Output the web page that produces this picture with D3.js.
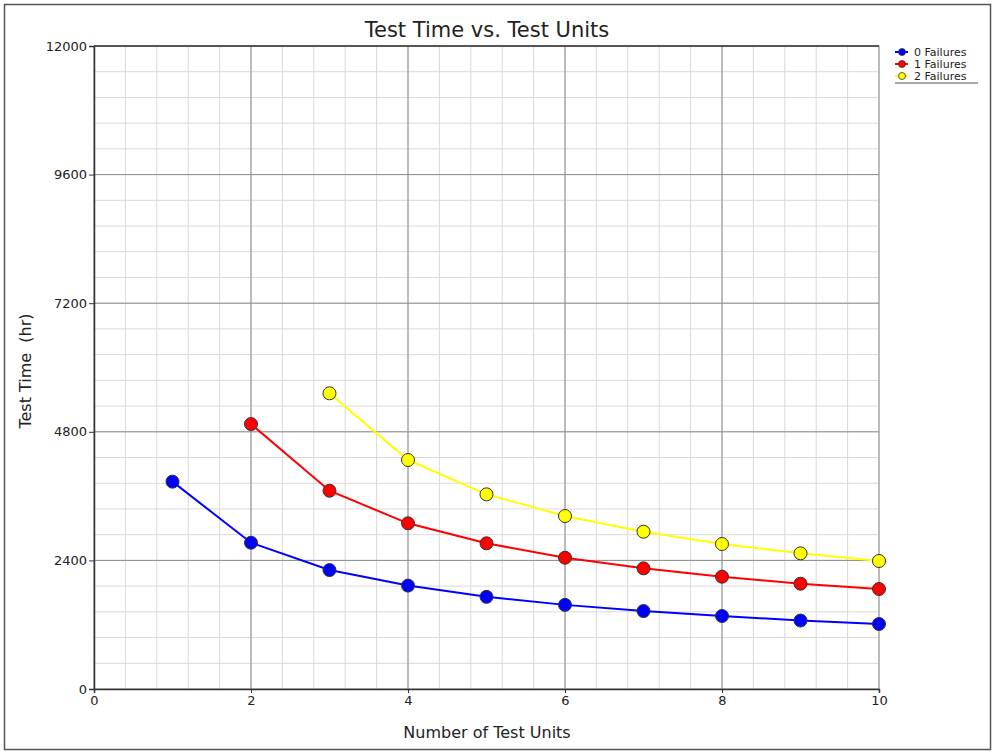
<!DOCTYPE html>
<html>
<head>
<meta charset="utf-8">
<script src="https://cdn.jsdelivr.net/npm/d3@7"></script>
<style>
  body { margin: 0; background: #fff; }
  text { font-family: "DejaVu Sans", Verdana, sans-serif; fill: #222; }
</style>
</head>
<body>
<div id="chart"></div>
<script>
const units = [1, 2, 3, 4, 5, 6, 7, 8, 9, 10];
const zeroFailures = [3870, 2730, 2220, 1930, 1720, 1570, 1455, 1362, 1278, 1213];
const oneFailures = [null, 4945, 3700, 3092, 2719, 2450, 2252, 2096, 1965, 1866];
const twoFailures = [null, null, 5518, 4273, 3633, 3228, 2935, 2706, 2532, 2389];
const xTicks = [0, 2, 4, 6, 8, 10];
const yTicks = [0, 2400, 4800, 7200, 9600, 12000];

const series = [
  { name: "0 Failures", values: zeroFailures, color: "#0000ff" },
  { name: "1 Failures", values: oneFailures, color: "#ff0000" },
  { name: "2 Failures", values: twoFailures, color: "#ffff00" }
];

const W = 999, H = 755;
const margin = { top: 46, right: 120, bottom: 66, left: 94 };
const width = 879 - margin.left;
const height = 689 - margin.top;

const svg = d3.select("#chart").append("svg")
  .attr("width", W).attr("height", H);

svg.append("rect")
  .attr("x", 4.5).attr("y", 4.5)
  .attr("width", 986).attr("height", 745)
  .attr("fill", "#fff").attr("stroke", "#555").attr("stroke-width", 1.5);

const g = svg.append("g").attr("transform", `translate(${margin.left},${margin.top})`);

const x = d3.scaleLinear().domain([0, 10]).range([0, width]);
const y = d3.scaleLinear().domain([0, 12000]).range([height, 0]);

// minor grid
g.append("g").selectAll("line")
  .data(d3.range(0, 26).map(i => i * 0.4))
  .join("line")
  .attr("x1", d => x(d)).attr("x2", d => x(d))
  .attr("y1", 0).attr("y2", height)
  .attr("stroke", "#d9d9d9");
g.append("g").selectAll("line")
  .data(d3.range(0, 26).map(i => i * 480))
  .join("line")
  .attr("y1", d => y(d)).attr("y2", d => y(d))
  .attr("x1", 0).attr("x2", width)
  .attr("stroke", "#d9d9d9");

// major grid
g.append("g").selectAll("line")
  .data(xTicks)
  .join("line")
  .attr("x1", d => x(d)).attr("x2", d => x(d))
  .attr("y1", 0).attr("y2", height)
  .attr("stroke", "#8c8c8c");
g.append("g").selectAll("line")
  .data(yTicks)
  .join("line")
  .attr("y1", d => y(d)).attr("y2", d => y(d))
  .attr("x1", 0).attr("x2", width)
  .attr("stroke", "#8c8c8c");

// axes
const xAxis = g.append("g")
  .attr("transform", `translate(0,${height})`)
  .call(d3.axisBottom(x).tickValues(xTicks).tickFormat(d3.format("d")).tickSize(4).tickPadding(3));
const yAxis = g.append("g")
  .call(d3.axisLeft(y).tickValues(yTicks).tickFormat(d3.format("d")).tickSize(5).tickPadding(2));
[xAxis, yAxis].forEach(a => {
  a.select(".domain").attr("stroke", "#333").attr("stroke-width", 1.5);
  a.selectAll(".tick line").attr("stroke", "#333");
  a.selectAll("text").style("font-size", "13px").attr("fill", "#222");
});
g.append("line")
  .attr("x1", 0).attr("x2", width).attr("y1", 0).attr("y2", 0)
  .attr("stroke", "#333").attr("stroke-width", 1.5);

// series
const line = d3.line()
  .defined(d => d.v != null)
  .x(d => x(d.u)).y(d => y(d.v));

series.forEach(s => {
  const pts = units.map((u, i) => ({ u, v: s.values[i] }));
  g.append("path")
    .datum(pts)
    .attr("d", line)
    .attr("fill", "none")
    .attr("stroke", s.color)
    .attr("stroke-width", 2);
  g.append("g").selectAll("circle")
    .data(pts.filter(d => d.v != null))
    .join("circle")
    .attr("cx", d => x(d.u)).attr("cy", d => y(d.v))
    .attr("r", 6.5)
    .attr("fill", s.color)
    .attr("stroke", "#333")
    .attr("stroke-width", 1);
});

// title and labels
svg.append("text")
  .attr("x", 487).attr("y", 37)
  .attr("text-anchor", "middle")
  .style("font-size", "21px")
  .text("Test Time vs. Test Units");

svg.append("text")
  .attr("x", 487).attr("y", 738)
  .attr("text-anchor", "middle")
  .style("font-size", "16px")
  .text("Number of Test Units");

svg.append("text")
  .attr("transform", "translate(31,371) rotate(-90)")
  .attr("text-anchor", "middle")
  .style("font-size", "16px")
  .style("white-space", "pre")
  .text("Test Time  (hr)");

// legend
const legend = svg.append("g").attr("transform", "translate(895,52)");
series.forEach((s, i) => {
  const row = legend.append("g").attr("transform", `translate(0,${i * 12})`);
  row.append("line")
    .attr("x1", 0).attr("x2", 13).attr("y1", 0).attr("y2", 0)
    .attr("stroke", s.color).attr("stroke-width", 2);
  row.append("circle")
    .attr("cx", 7).attr("cy", 0).attr("r", 3.5)
    .attr("fill", s.color).attr("stroke", "#333").attr("stroke-width", 0.8);
  row.append("text")
    .attr("x", 19).attr("y", 4)
    .style("font-size", "11px")
    .text(s.name);
});
legend.append("line")
  .attr("x1", 0).attr("x2", 83).attr("y1", 31).attr("y2", 31)
  .attr("stroke", "#555").attr("stroke-width", 1.2);
</script>
</body>
</html>
